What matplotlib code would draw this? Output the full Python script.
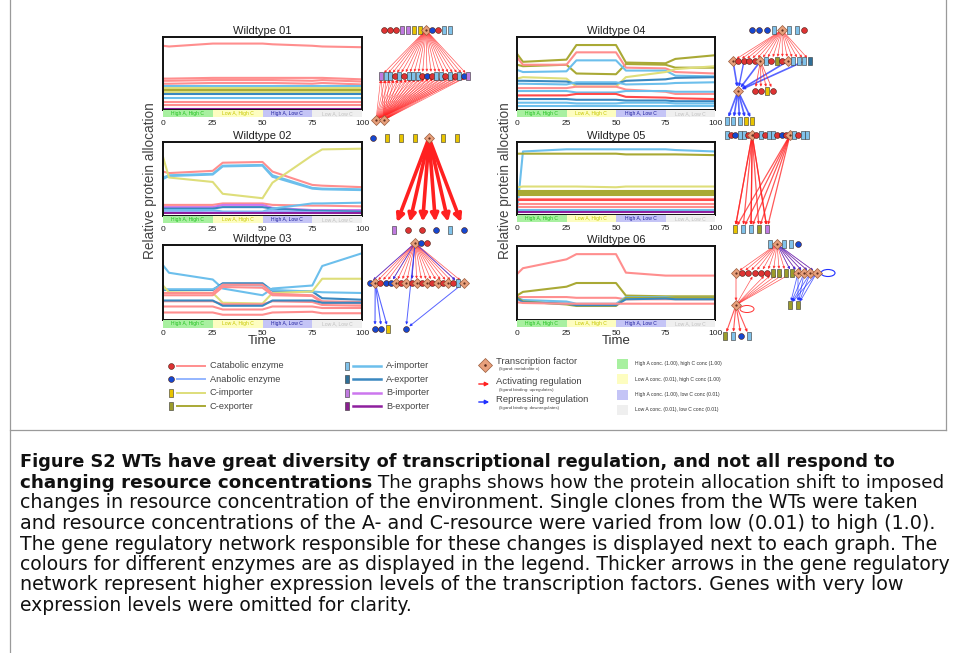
import numpy as np
import matplotlib
matplotlib.use("Agg")
import matplotlib.pyplot as plt
from matplotlib.patches import Rectangle, Ellipse
from matplotlib.transforms import blended_transform_factory

plt.rcParams['font.family'] = ['Liberation Sans', 'DejaVu Sans']

# time points where the protein allocation was sampled
t = [0, 3, 25, 30, 50, 55, 75, 80, 100]

# resource regimes shown in the strip under every panel
regimes = ["High A, High C", "Low A, High C", "High A, Low C", "Low A, Low C"]
regime_bg = ["#a8f0a0", "#fdfdc0", "#c4c4f6", "#efefef"]
regime_fg = ["#20c020", "#c8c800", "#2020a0", "#c0c0c0"]
regime_edges = [0, 25, 50, 75, 100]

# (gene kind, allocation at each time point)
wt01 = [
    ("cat", [0.88, 0.87, 0.91, 0.91, 0.91, 0.90, 0.88, 0.87, 0.86]),
    ("cat", [0.43, 0.43, 0.44, 0.44, 0.44, 0.44, 0.44, 0.44, 0.42]),
    ("cat", [0.40, 0.40, 0.41, 0.41, 0.41, 0.41, 0.40, 0.41, 0.39]),
    ("cat", [0.36, 0.36, 0.37, 0.37, 0.37, 0.37, 0.36, 0.37, 0.35]),
    ("aimp", [0.33, 0.33, 0.33, 0.33, 0.33, 0.33, 0.33, 0.33, 0.33]),
    ("cimp", [0.30, 0.30, 0.30, 0.30, 0.30, 0.30, 0.30, 0.30, 0.30]),
    ("cexp", [0.27, 0.27, 0.27, 0.27, 0.27, 0.27, 0.27, 0.27, 0.27]),
    ("cimp", [0.25, 0.25, 0.25, 0.25, 0.25, 0.25, 0.25, 0.25, 0.25]),
    ("aexp", [0.22, 0.22, 0.22, 0.22, 0.22, 0.22, 0.22, 0.22, 0.22]),
    ("aimp", [0.16, 0.16, 0.16, 0.16, 0.16, 0.16, 0.16, 0.16, 0.16]),
    ("cat", [0.11, 0.11, 0.11, 0.11, 0.11, 0.11, 0.11, 0.11, 0.11]),
    ("cat", [0.07, 0.07, 0.07, 0.07, 0.07, 0.07, 0.07, 0.07, 0.07]),
    ("bexp", [0.015, 0.015, 0.015, 0.015, 0.015, 0.015, 0.015, 0.015, 0.015]),
]
wt02 = [
    ("cat", [0.60, 0.58, 0.61, 0.72, 0.73, 0.60, 0.42, 0.41, 0.39]),
    ("aimp", [0.52, 0.55, 0.57, 0.68, 0.69, 0.55, 0.38, 0.37, 0.36]),
    ("aimp", [0.50, 0.54, 0.56, 0.67, 0.68, 0.53, 0.37, 0.36, 0.35]),
    ("cimp", [0.80, 0.52, 0.46, 0.30, 0.24, 0.45, 0.82, 0.90, 0.91]),
    ("cat", [0.15, 0.15, 0.15, 0.17, 0.17, 0.15, 0.14, 0.14, 0.13]),
    ("bimp", [0.12, 0.12, 0.12, 0.15, 0.15, 0.11, 0.08, 0.08, 0.08]),
    ("aexp", [0.10, 0.10, 0.10, 0.12, 0.12, 0.10, 0.07, 0.07, 0.06]),
    ("aimp", [0.08, 0.08, 0.08, 0.06, 0.06, 0.10, 0.17, 0.17, 0.18]),
    ("ana", [0.06, 0.06, 0.05, 0.05, 0.05, 0.07, 0.05, 0.05, 0.04]),
    ("bexp", [0.04, 0.04, 0.04, 0.04, 0.04, 0.04, 0.04, 0.04, 0.04]),
]
wt03 = [
    ("aimp", [0.73, 0.63, 0.54, 0.42, 0.33, 0.42, 0.46, 0.72, 0.89]),
    ("aexp", [0.40, 0.40, 0.40, 0.49, 0.49, 0.39, 0.38, 0.29, 0.27]),
    ("aimp", [0.41, 0.41, 0.41, 0.47, 0.46, 0.40, 0.38, 0.37, 0.36]),
    ("cimp", [0.46, 0.37, 0.36, 0.23, 0.22, 0.36, 0.38, 0.55, 0.55]),
    ("cat", [0.36, 0.36, 0.36, 0.47, 0.47, 0.35, 0.33, 0.25, 0.24]),
    ("cat", [0.33, 0.33, 0.33, 0.44, 0.43, 0.33, 0.32, 0.23, 0.22]),
    ("cat", [0.25, 0.25, 0.25, 0.21, 0.21, 0.25, 0.24, 0.20, 0.19]),
    ("aexp", [0.26, 0.26, 0.26, 0.19, 0.19, 0.26, 0.26, 0.23, 0.23]),
    ("cat", [0.18, 0.18, 0.18, 0.14, 0.14, 0.18, 0.18, 0.16, 0.16]),
    ("cat", [0.10, 0.10, 0.10, 0.07, 0.07, 0.10, 0.11, 0.09, 0.09]),
]
wt04 = [
    ("cexp", [0.77, 0.66, 0.69, 0.89, 0.89, 0.65, 0.64, 0.70, 0.75]),
    ("cexp", [0.62, 0.60, 0.62, 0.50, 0.49, 0.63, 0.62, 0.58, 0.58]),
    ("cat", [0.72, 0.62, 0.62, 0.79, 0.79, 0.58, 0.57, 0.52, 0.50]),
    ("aimp", [0.55, 0.52, 0.53, 0.68, 0.68, 0.54, 0.54, 0.47, 0.46]),
    ("cimp", [0.43, 0.45, 0.43, 0.32, 0.32, 0.45, 0.52, 0.56, 0.60]),
    ("aexp", [0.40, 0.40, 0.39, 0.36, 0.36, 0.40, 0.42, 0.44, 0.45]),
    ("aimp", [0.36, 0.36, 0.35, 0.38, 0.38, 0.35, 0.36, 0.37, 0.38]),
    ("cat", [0.30, 0.30, 0.30, 0.32, 0.32, 0.28, 0.25, 0.22, 0.22]),
    ("aimp", [0.26, 0.26, 0.26, 0.24, 0.24, 0.26, 0.26, 0.25, 0.25]),
    ("catd", [0.20, 0.20, 0.20, 0.22, 0.22, 0.18, 0.17, 0.16, 0.15]),
    ("aexp", [0.15, 0.15, 0.15, 0.14, 0.14, 0.13, 0.13, 0.12, 0.12]),
    ("aimp", [0.10, 0.10, 0.10, 0.09, 0.09, 0.10, 0.10, 0.09, 0.09]),
    ("aimp", [0.05, 0.05, 0.05, 0.05, 0.05, 0.05, 0.05, 0.05, 0.05]),
]
wt05 = [
    ("aimp", [0.03, 0.87, 0.90, 0.90, 0.90, 0.90, 0.90, 0.89, 0.87]),
    ("cexp", [0.84, 0.84, 0.84, 0.84, 0.84, 0.83, 0.83, 0.83, 0.82]),
    ("cimp", [0.38, 0.39, 0.39, 0.39, 0.38, 0.39, 0.39, 0.39, 0.39]),
    ("cexp", [0.33, 0.33, 0.33, 0.33, 0.33, 0.33, 0.33, 0.33, 0.33]),
    ("cexp", [0.30, 0.30, 0.30, 0.30, 0.30, 0.30, 0.30, 0.30, 0.30]),
    ("cexp", [0.27, 0.27, 0.27, 0.27, 0.27, 0.27, 0.27, 0.27, 0.27]),
    ("cat", [0.22, 0.22, 0.22, 0.22, 0.22, 0.22, 0.22, 0.22, 0.22]),
    ("catd", [0.20, 0.20, 0.20, 0.20, 0.20, 0.20, 0.20, 0.20, 0.20]),
    ("cat", [0.15, 0.15, 0.15, 0.15, 0.15, 0.15, 0.15, 0.15, 0.15]),
    ("cat", [0.11, 0.11, 0.11, 0.11, 0.11, 0.11, 0.11, 0.11, 0.11]),
    ("aimp", [0.07, 0.07, 0.07, 0.07, 0.07, 0.07, 0.07, 0.07, 0.07]),
    ("bexp", [0.04, 0.04, 0.04, 0.04, 0.04, 0.04, 0.04, 0.04, 0.04]),
]
wt06 = [
    ("cat", [0.62, 0.70, 0.82, 0.89, 0.89, 0.64, 0.60, 0.60, 0.60]),
    ("cexp", [0.33, 0.38, 0.45, 0.50, 0.50, 0.33, 0.32, 0.32, 0.32]),
    ("cat", [0.31, 0.31, 0.31, 0.30, 0.30, 0.28, 0.28, 0.28, 0.28]),
    ("aimp", [0.30, 0.27, 0.25, 0.22, 0.22, 0.31, 0.31, 0.30, 0.30]),
    ("cexp", [0.31, 0.25, 0.21, 0.19, 0.19, 0.30, 0.30, 0.30, 0.30]),
    ("aexp", [0.29, 0.24, 0.22, 0.20, 0.20, 0.28, 0.29, 0.28, 0.28]),
    ("cat", [0.24, 0.23, 0.22, 0.22, 0.22, 0.22, 0.22, 0.22, 0.22]),
]

panels = [("Wildtype 01", wt01), ("Wildtype 02", wt02), ("Wildtype 03", wt03),
          ("Wildtype 04", wt04), ("Wildtype 05", wt05), ("Wildtype 06", wt06)]

line_col = {"cat": "#ff8e8e", "catd": "#ff4a4a", "ana": "#94b6ff", "cimp": "#dede7a",
            "cexp": "#a9a935", "aimp": "#6cbfec", "aexp": "#3a88c0",
            "bimp": "#cc77ee", "bexp": "#8e1f9e"}

node_face = {"c": "#dd3333", "a": "#1548d0", "Y": "#e8c400", "O": "#9c9c2a",
             "L": "#80c2ea", "S": "#2f6f98", "V": "#c07ae0", "P": "#8a208f",
             "T": "#e8a07c"}

# regulatory networks: rows of genes (y, first x, spacing, genes) and
# edges (from row, from gene, to row, target genes or None for all, colour, width)
net1_rows = [(30, 384, 6.0, "cccVVYYTacLL"),
             (76, 381, 4.6, "VLLcLcLLLcacLLcLcLaV"),
             (120, 376, 8.0, "TT")]
net1_edges = [(0, 7, 1, None, "r", 0.5), (2, 0, 1, None, "r", 0.45), (2, 1, 1, None, "r", 0.45)]

net2_rows = [(138, 373, 14.0, "aYYYTYY"),
             (230, 394, 14.0, "VccaLa")]
net2_edges = [(0, 4, 1, None, "r", 2.6)]

net3_rows = [(243, 415, 6.0, "Tac"),
             (283, 370, 5.2, "aTcaaTcTcTcTcTcTcLT"),
             (329, 375, 6.5, "aaY"),
             (329, 406, 6.0, "a")]
net3_edges = [(0, 0, 1, None, "r", 0.5), (0, 0, 1, [0, 4, 8, 17], "b", 0.6),
              (1, 1, 2, None, "b", 0.8), (0, 0, 3, None, "b", 0.7), (1, 18, 3, None, "b", 0.7)]

net4_rows = [(30, 752, 7.5, "aaaLTLLc"),
             (61, 733, 5.5, "TccccTLcOcTLLLS"),
             (91, 738, 7.0, "T"),
             (91, 755, 6.0, "ccYc"),
             (121, 727, 6.3, "LLLYY")]
net4_edges = [(0, 4, 1, None, "r", 0.5), (1, 0, 2, None, "b", 1.2), (1, 5, 2, None, "b", 1.2),
              (1, 10, 2, None, "b", 1.2), (1, 13, 2, None, "b", 1.2), (1, 2, 2, None, "b", 1.0),
              (1, 5, 3, None, "r", 0.6), (2, 0, 4, None, "b", 1.2)]

net5_rows = [(135, 727, 4.2, "LcaLLcTcLcLLcacTLcLL"),
             (229, 735, 8.0, "YLLOV")]
net5_edges = [(0, 6, 1, None, "r", 0.9), (0, 15, 1, None, "r", 0.9), (0, 6, 1, [0, 2, 4], "r", 0.9)]

net6_rows = [(244, 770, 7.0, "LTLLa"),
             (273, 736, 6.2, "TcccccOOOOTTTT"),
             (305, 736, 6.0, "T"),
             (305, 790, 8.0, "OO"),
             (336, 725, 8.0, "OLaL")]
net6_edges = [(0, 1, 1, None, "r", 0.5), (0, 1, 1, [9, 10, 11, 12, 13], "b", 0.5),
              (1, 10, 3, None, "b", 0.6), (1, 11, 3, None, "b", 0.6), (1, 12, 3, None, "b", 0.6),
              (1, 13, 3, None, "b", 0.6), (2, 0, 1, [3, 5, 6, 7, 8, 9], "r", 0.5),
              (1, 0, 2, None, "r", 0.6), (2, 0, 4, None, "r", 0.8)]

networks = [(net1_rows, net1_edges), (net2_rows, net2_edges), (net3_rows, net3_edges),
            (net4_rows, net4_edges), (net5_rows, net5_edges), (net6_rows, net6_edges)]

legend_genes = [("c", "cat", "Catabolic enzyme"), ("a", "ana", "Anabolic enzyme"),
                ("Y", "cimp", "C-importer"), ("O", "cexp", "C-exporter"),
                ("L", "aimp", "A-importer"), ("S", "aexp", "A-exporter"),
                ("V", "bimp", "B-importer"), ("P", "bexp", "B-exporter")]
legend_conc = ["High A conc. (1.00), high C conc (1.00)", "Low A conc. (0.01), high C conc (1.00)",
               "High A conc. (1.00), low C conc (0.01)", "Low A conc. (0.01), low C conc (0.01)"]

caption = [
    [("Figure S2 WTs have great diversity of transcriptional regulation, and not all respond to", "bold")],
    [("changing resource concentrations", "bold"),
     (" The graphs shows how the protein allocation shift to imposed", "normal")],
    [("changes in resource concentration of the environment. Single clones from the WTs were taken", "normal")],
    [("and resource concentrations of the A- and C-resource were varied from low (0.01) to high (1.0).", "normal")],
    [("The gene regulatory network responsible for these changes is displayed next to each graph. The", "normal")],
    [("colours for different enzymes are as displayed in the legend. Thicker arrows in the gene regulatory", "normal")],
    [("network represent higher expression levels of the transcription factors. Genes with very low", "normal")],
    [("expression levels were omitted for clarity.", "normal")],
]
# right end of each caption line (the last line is left ragged)
caption_ends = [893, 940, 918, 930, 934, 945, 920, None]

W, H = 956, 653
fig = plt.figure(figsize=(W / 100, H / 100), dpi=100)

# panel frames in pixels: left, top, right, bottom
frames = [(163, 37, 362, 110), (163, 142, 362, 216), (163, 245, 362, 320),
          (517, 37, 715, 110), (517, 142, 715, 215), (517, 246, 715, 320)]

for i, ((title, series), (x0, y0, x1, y1)) in enumerate(zip(panels, frames)):
    ax = fig.add_axes([x0 / W, 1 - y1 / H, (x1 - x0) / W, (y1 - y0) / H])
    for kind, vals in series:
        ax.plot(t, vals, color=line_col[kind], lw=1.5, solid_joinstyle="round")
    ax.set_xlim(0, 100)
    ax.set_ylim(0, 1)
    ax.set_yticks([])
    ax.set_xticks([0, 25, 50, 75, 100])
    ax.tick_params(axis="x", length=0, pad=7, labelsize=6, colors="#222222")
    for s in ax.spines.values():
        s.set_linewidth(1.4)
        s.set_color("#111111")
    ax.set_title(title, fontsize=8, pad=2, color="#222222")
    trans = blended_transform_factory(ax.transData, ax.transAxes)
    for k in range(4):
        a, b = regime_edges[k], regime_edges[k + 1]
        ax.add_patch(Rectangle((a, -0.1), b - a, 0.1, transform=trans, clip_on=False,
                               facecolor=regime_bg[k], edgecolor="none", zorder=3))
        ax.text((a + b) / 2, -0.05, regimes[k], transform=trans, fontsize=3.6,
                color=regime_fg[k], ha="center", va="center", zorder=4)
    if i in (2, 5):
        ax.set_xlabel("Time", fontsize=9.5, color="#333333", labelpad=-1)

fig.text(150 / W, 1 - 181 / H, "Relative protein allocation", rotation=90,
         fontsize=9.8, color="#444444", ha="center", va="center")
fig.text(505 / W, 1 - 181 / H, "Relative protein allocation", rotation=90,
         fontsize=9.8, color="#444444", ha="center", va="center")

# overlay in pixel coordinates for networks, legend and caption
ov = fig.add_axes([0, 0, 1, 1], facecolor="none")
ov.set_xlim(0, W)
ov.set_ylim(H, 0)
ov.axis("off")

rect_marker = [(-0.55, -1), (0.55, -1), (0.55, 1), (-0.55, 1), (-0.55, -1)]


def draw_node(x, y, code, scale=1.0):
    if code in "ca":
        ov.plot(x, y, "o", ms=4.2 * scale, mfc=node_face[code], mec="#4a1a10", mew=0.4, zorder=6)
    elif code == "T":
        ov.plot(x, y, "D", ms=5.4 * scale, mfc=node_face[code], mec="#9a5a3a", mew=0.5, zorder=6)
        ov.plot(x, y, ".", ms=1.2 * scale, color="#5a2a1a", zorder=7)
    else:
        ov.plot(x, y, marker=rect_marker, ms=5.8 * scale, mfc=node_face[code],
                mec="#333333", mew=0.4, zorder=6, linestyle="none")


for rows, edges in networks:
    pos = []
    for y, x0, dx, codes in rows:
        pos.append([(x0 + j * dx, y) for j in range(len(codes))])
    for r0, j0, r1, targets, c, lw in edges:
        src = pos[r0][j0]
        idx = range(len(pos[r1])) if targets is None else targets
        col = "#ff2020" if c == "r" else "#2030ff"
        for j in idx:
            dst = pos[r1][j]
            big = lw > 2
            ov.annotate("", xy=dst, xytext=src, zorder=4,
                        arrowprops=dict(arrowstyle="-|>", color=col, lw=lw, alpha=0.75 if not big else 1,
                                        mutation_scale=11 if big else 3.5,
                                        shrinkA=2, shrinkB=6 if big else 3))
    for (y, x0, dx, codes), row_pos in zip(rows, pos):
        for (x, yy), code in zip(row_pos, codes):
            draw_node(x, yy, code)

# self regulation loops in the last network
ov.add_patch(Ellipse((747, 309), 14, 7, fill=False, edgecolor="#ff3030", lw=0.7, zorder=4))
ov.add_patch(Ellipse((828, 273), 14, 7, fill=False, edgecolor="#2030ff", lw=0.8, zorder=4))

# gene legend
for k, (code, kind, label) in enumerate(legend_genes):
    col, row = divmod(k, 4)
    lx = 171 if col == 0 else 347
    ly = 366 + row * 13.4
    ov.plot([lx + 6, lx + 34], [ly, ly], color=line_col[kind], lw=1.4 if col == 0 else 1.8)
    draw_node(lx, ly, code, scale=1.0)
    ov.text(lx + 39, ly, label, fontsize=6.7, color="#444444", va="center", ha="left")

# regulation legend
draw_node(485, 365, "T", scale=1.4)
ov.text(496, 362, "Transcription factor", fontsize=6.8, color="#444444", va="center")
ov.text(499, 369, "(ligand: metabolite x)", fontsize=3.2, color="#444444", va="center")
ov.annotate("", xy=(492, 384), xytext=(476, 384),
            arrowprops=dict(arrowstyle="-|>", color="#ff2020", lw=1.0, mutation_scale=6))
ov.text(496, 382, "Activating regulation", fontsize=6.8, color="#444444", va="center")
ov.text(499, 390, "(ligand binding: upregulates)", fontsize=3.2, color="#444444", va="center")
ov.annotate("", xy=(492, 402), xytext=(476, 402),
            arrowprops=dict(arrowstyle="-|>", color="#2030ff", lw=1.0, mutation_scale=6))
ov.text(496, 400, "Repressing regulation", fontsize=6.8, color="#444444", va="center")
ov.text(499, 408, "(ligand binding: downregulates)", fontsize=3.2, color="#444444", va="center")

# concentration legend
for k, label in enumerate(legend_conc):
    cy = 364 + k * 15.3
    ov.add_patch(Rectangle((617, cy - 5), 11, 10, facecolor=regime_bg[k], edgecolor="none"))
    ov.text(635, cy, label, fontsize=3.6, color="#333333", va="center")

# page frame
ov.plot([10, 10], [0, H], color="#9a9a9a", lw=0.9)
ov.plot([946, 946], [0, 430], color="#9a9a9a", lw=0.9)
ov.plot([10, 946], [430, 430], color="#9a9a9a", lw=0.9)

# caption in a wide face; each full line is sized to end where the text block does
cap_font = "DejaVu Sans"
renderer = fig.canvas.get_renderer()


def line_width(parts, size):
    w = 0
    for txt, weight in parts:
        probe = ov.text(0, 0, txt, fontsize=size, fontweight=weight, family=cap_font)
        w += probe.get_window_extent(renderer=renderer).width
        probe.remove()
    return w


base = 12 * 925 / line_width(caption[5], 12)
for k, (parts, end) in enumerate(zip(caption, caption_ends)):
    size = base
    if end is not None:
        size = min(base * 1.02, 12 * (end - 20) / line_width(parts, 12))
    x = 20
    y = 462 + k * 20.5
    for txt, weight in parts:
        tx = ov.text(x, y, txt, fontsize=size, fontweight=weight, family=cap_font,
                     color="#111111", va="center", ha="left")
        x = tx.get_window_extent(renderer=renderer).x1

fig.savefig("out.png", dpi=100)
